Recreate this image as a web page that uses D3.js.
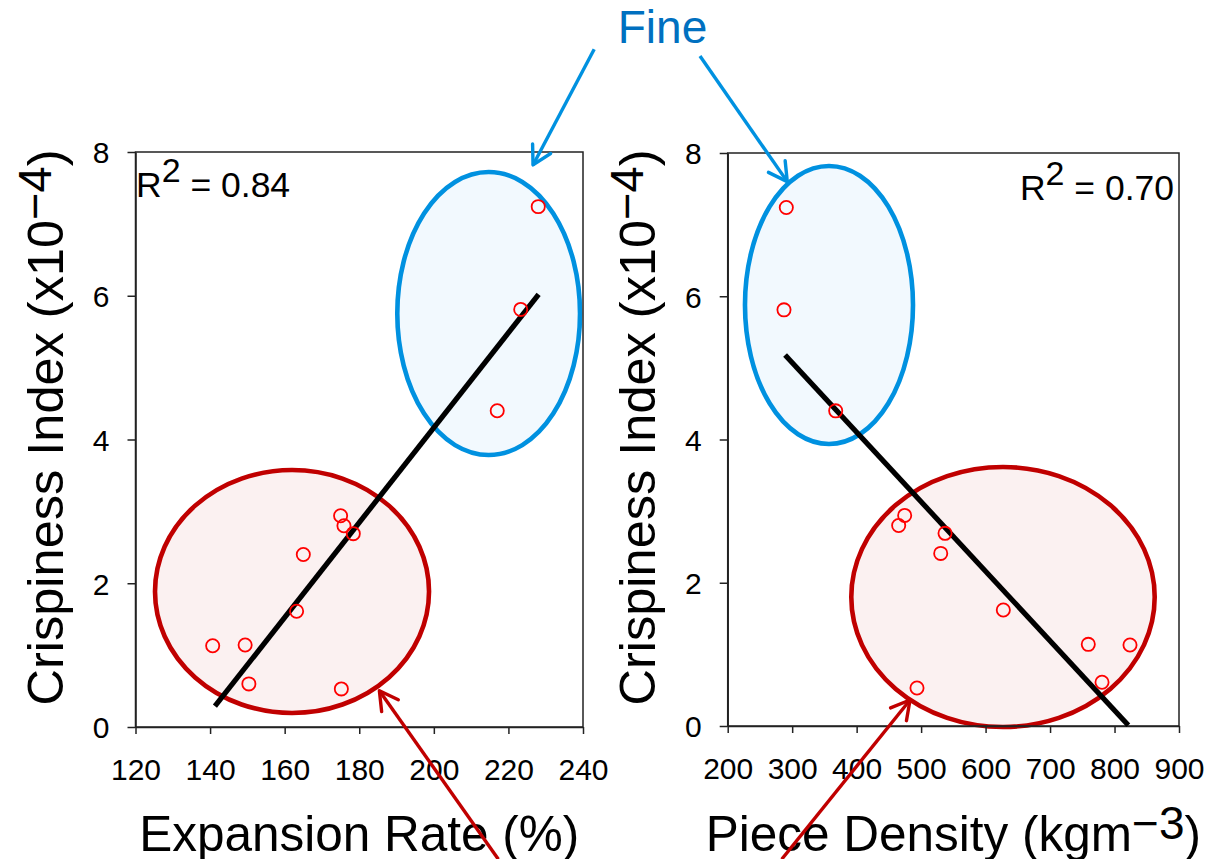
<!DOCTYPE html>
<html>
<head>
<meta charset="utf-8">
<script src="https://cdn.jsdelivr.net/npm/d3@7"></script>
<style>
  html, body { margin: 0; padding: 0; background: #fff; }
  svg { display: block; }
</style>
</head>
<body>
<svg id="chart" width="1206" height="859"></svg>
<script>
// ---------------- DATA ----------------
const expansionRate = [140.7, 149.4, 150.4, 163.2, 165.0, 175.0, 175.9, 178.4, 175.2, 217.0, 223.3, 228.0];
const crispinessA   = [1.13, 1.14, 0.60, 1.61, 2.40, 2.94, 2.80, 2.69, 0.53, 4.40, 5.81, 7.24];
const pieceDensity  = [465.2, 474.5, 537.1, 530.4, 627.5, 759.3, 824.0, 780.6, 493.6, 290.9, 287.3, 367.5];
const crispinessB   = [2.80, 2.94, 2.69, 2.41, 1.62, 1.14, 1.13, 0.61, 0.53, 7.24, 5.81, 4.40];

const trendAX = [141.3, 228.1];
const trendAY = [0.29, 6.02];
const trendBX = [289.0, 821.4];
const trendBY = [5.18, 0.01];

const xTicksA = [120, 140, 160, 180, 200, 220, 240];
const xTicksB = [200, 300, 400, 500, 600, 700, 800, 900];
const yTicks  = [0, 2, 4, 6, 8];

const r2A = "0.84";
const r2B = "0.70";
const fineLabel = "Fine";

// ---------------- SETUP ----------------
const FONT = "'Liberation Sans', Arial, Helvetica, sans-serif";
const svg = d3.select("#chart");
svg.append("rect").attr("width", 1206).attr("height", 859).attr("fill", "#fff");

const BLUE = "#0091e0", BLUE_FILL = "#f2f9fe", BLUE_TEXT = "#0070c0";
const RED = "#c00000", RED_FILL = "#fbf1f1";

const panels = [
  {
    x: d3.scaleLinear().domain([120, 240]).range([135.5, 583]),
    y: d3.scaleLinear().domain([0, 8]).range([727, 152]),
    xs: expansionRate, ys: crispinessA, tx: trendAX, ty: trendAY, xticks: xTicksA,
    ellipses: [
      {cx: 214.7, cy: 5.753, rx: 24.5, ry: 1.969, stroke: BLUE, fill: BLUE_FILL},
      {cx: 161.97, cy: 1.885, rx: 36.74, ry: 1.690, stroke: RED, fill: RED_FILL}
    ],
    arrows: [
      {x1: 243.0, y1: 9.43, x2: 226.6, y2: 7.82, color: BLUE, w: 3.4},
      {x1: 217.3, y1: -1.84, x2: 185.4, y2: 0.505, color: RED, w: 3.4}
    ],
    xlabel: [["Expansion Rate (%)", null]],
    r2: r2A, r2anchor: "start", r2x: 136, r2y: 197,
    ytitleX: 63
  },
  {
    x: d3.scaleLinear().domain([200, 900]).range([727.7, 1179]),
    y: d3.scaleLinear().domain([0, 8]).range([726, 153]),
    xs: pieceDensity, ys: crispinessB, tx: trendBX, ty: trendBY, xticks: xTicksB,
    ellipses: [
      {cx: 357.1, cy: 5.878, rx: 130.3, ry: 1.941, stroke: BLUE, fill: BLUE_FILL},
      {cx: 627.0, cy: 1.801, rx: 235.3, ry: 1.815, stroke: RED, fill: RED_FILL}
    ],
    arrows: [
      {x1: 157.0, y1: 9.354, x2: 292.4, y2: 7.60, color: BLUE, w: 3.4},
      {x1: 283.8, y1: -1.86, x2: 482.8, y2: 0.363, color: RED, w: 3.4}
    ],
    xlabel: [["Piece Density (kgm", null], ["\u22123", "sup"], [")", null]],
    r2: r2B, r2anchor: "end", r2x: 1174, r2y: 200,
    ytitleX: 655
  }
];

function addSup(textSel, parts, size, supSize, shift) {
  parts.forEach(([t, kind]) => {
    const ts = textSel.append("tspan").text(t);
    if (kind === "sup") {
      ts.attr("font-size", supSize).attr("dy", -shift);
    } else {
      ts.attr("font-size", size);
      if (textSel.node().dataset.raised === "1") ts.attr("dy", shift);
    }
    textSel.node().dataset.raised = kind === "sup" ? "1" : "0";
  });
}

panels.forEach(p => {
  const g = svg.append("g");
  const [x0, x1] = p.x.range();
  const [yb, yt] = p.y.range();

  // ellipses
  p.ellipses.forEach(e => {
    g.append("ellipse")
      .attr("cx", p.x(e.cx)).attr("cy", p.y(e.cy))
      .attr("rx", Math.abs(p.x(e.cx + e.rx) - p.x(e.cx)))
      .attr("ry", Math.abs(p.y(e.cy + e.ry) - p.y(e.cy)))
      .attr("fill", e.fill).attr("stroke", e.stroke).attr("stroke-width", 4.6);
  });

  // frame
  g.append("rect").attr("x", x0).attr("y", yt).attr("width", x1 - x0).attr("height", yb - yt)
    .attr("fill", "none").attr("stroke", "#222").attr("stroke-width", 1.5);

  // axes
  const xAxis = d3.axisBottom(p.x).tickValues(p.xticks).tickSize(7).tickPadding(0).tickSizeOuter(0);
  const gx = g.append("g").attr("transform", `translate(0,${yb})`).call(xAxis);
  gx.select(".domain").attr("stroke", "#222").attr("stroke-width", 1.5);
  gx.selectAll(".tick line").attr("stroke", "#222").attr("stroke-width", 1.5);
  gx.selectAll(".tick text").attr("y", 53).attr("dy", null)
    .attr("font-family", FONT).attr("font-size", 30).attr("fill", "#000");

  const yAxis = d3.axisLeft(p.y).tickValues(yTicks).tickSize(8).tickPadding(18).tickSizeOuter(0);
  const gy = g.append("g").attr("transform", `translate(${x0},0)`).call(yAxis);
  gy.select(".domain").attr("stroke", "#222").attr("stroke-width", 1.5);
  gy.selectAll(".tick line").attr("stroke", "#222").attr("stroke-width", 1.5);
  gy.selectAll(".tick text").attr("dy", "0.36em")
    .attr("font-family", FONT).attr("font-size", 30).attr("fill", "#000");

  // trendline
  const line = d3.line().x(d => p.x(d[0])).y(d => p.y(d[1]));
  g.append("path").datum(d3.zip(p.tx, p.ty)).attr("d", line)
    .attr("stroke", "#000").attr("stroke-width", 5.2).attr("fill", "none");

  // points
  g.selectAll("circle.pt").data(d3.zip(p.xs, p.ys)).join("circle").attr("class", "pt")
    .attr("cx", d => p.x(d[0])).attr("cy", d => p.y(d[1])).attr("r", 6.6)
    .attr("fill", "none").attr("stroke", "#ff0000").attr("stroke-width", 1.8);

  // R^2
  const r2 = g.append("text").attr("x", p.r2x).attr("y", p.r2y)
    .attr("font-family", FONT).attr("text-anchor", p.r2anchor).attr("fill", "#000");
  addSup(r2, [["R", null], ["2", "sup"], [" = " + p.r2, null]], 35.5, 34, 15);

  // x title
  const xt = g.append("text").attr("x", (x0 + x1) / 2).attr("y", 851)
    .attr("font-family", FONT).attr("text-anchor", "middle").attr("fill", "#000");
  addSup(xt, p.xlabel, 49.5, 46, 12);

  // y title
  const yt2 = g.append("text")
    .attr("transform", `translate(${p.ytitleX},${(yb + yt) / 2 - 12}) rotate(-90)`)
    .attr("font-family", FONT).attr("text-anchor", "middle").attr("fill", "#000");
  addSup(yt2, [["Crispiness Index (x10", null], ["\u22124", "sup"], [")", null]], 50.5, 47, 12);

  // arrows
  p.arrows.forEach(a => {
    const X1 = p.x(a.x1), Y1 = p.y(a.y1), X2 = p.x(a.x2), Y2 = p.y(a.y2);
    const ang = Math.atan2(Y1 - Y2, X1 - X2);
    const L = 21, spread = Math.PI / 6.2;
    g.append("line").attr("x1", X1).attr("y1", Y1).attr("x2", X2).attr("y2", Y2)
      .attr("stroke", a.color).attr("stroke-width", a.w);
    g.append("path")
      .attr("d", `M${X2 + L * Math.cos(ang + spread)},${Y2 + L * Math.sin(ang + spread)} L${X2},${Y2} L${X2 + L * Math.cos(ang - spread)},${Y2 + L * Math.sin(ang - spread)}`)
      .attr("fill", "none").attr("stroke", a.color).attr("stroke-width", a.w)
      .attr("stroke-linecap", "round").attr("stroke-linejoin", "round");
  });
});

// "Fine" label
svg.append("text").attr("x", 662.5).attr("y", 43).attr("text-anchor", "middle")
  .attr("font-family", FONT).attr("font-size", 46).attr("fill", BLUE_TEXT).text(fineLabel);
</script>
</body>
</html>
